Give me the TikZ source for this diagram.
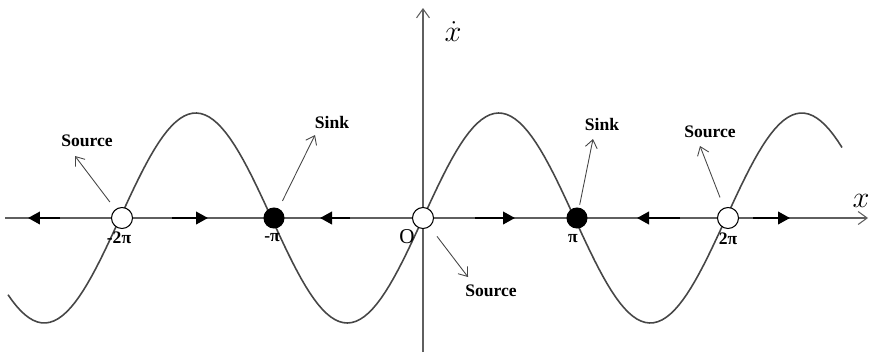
\documentclass[tikz,border=0pt]{standalone}
\usepackage{fontspec}
\setmainfont{Liberation Serif}
\usetikzlibrary{arrows.meta,positioning}
\definecolor{curvegray}{RGB}{70,70,70}
\definecolor{axisgray}{RGB}{95,95,95}
\tikzset{
  axisline/.style={draw=axisgray, line width=0.6pt, -{Straight Barb[length=1.8mm,width=2.6mm]}},
  curveline/.style={draw=curvegray, line width=0.9pt},
  srcpoint/.style={circle, draw=black, line width=0.6pt, fill=white, minimum size=4.2mm, inner sep=0pt},
  sinkpoint/.style={circle, draw=black, line width=0.6pt, fill=black, minimum size=4mm, inner sep=0pt},
  flow/.style={line width=1.3pt, -{Triangle[length=2.4mm,width=2.5mm]}},
  labelarrow/.style={draw=curvegray, line width=0.5pt, -{Straight Barb[length=1.6mm,width=2.4mm]}},
  labeltext/.style={font=\bfseries\fontsize{10}{12}\selectfont, inner sep=1pt},
  ticklabel/.style={font=\bfseries\fontsize{10}{12}\selectfont, inner sep=1pt}
}
\begin{document}
\begin{tikzpicture}[x=0.02cm, y=-0.02cm]
\useasboundingbox (0,0) rectangle (874,352);
% axes
\draw[axisline] (5,218) -- (868,218);
\draw[axisline] (423,352) -- (423,8);
\node (xlab) at (861,201) {\fontsize{16}{18}\selectfont$x$};
\node (xdotlab) at (453,32) {\fontsize{16}{18}\selectfont$\dot{x}$};
% sine curve
\draw[curveline] plot[domain=8:842, samples=200] (\x, {218-105*sin((\x-423)/151.5*180)});
% direction of flow
\draw[flow] (60,218) -- (28,218);
\draw[flow] (172,218) -- (208,218);
\draw[flow] (350,218) -- (320,218);
\draw[flow] (475,218) -- (515,218);
\draw[flow] (680,218) -- (637,218);
\draw[flow] (753,218) -- (790,218);
% fixed points
\node[srcpoint] (m2pi) at (122,218) {};
\node[sinkpoint] (mpi) at (274,218) {};
\node[srcpoint] (zero) at (423,218) {};
\node[sinkpoint] (ppi) at (577,218) {};
\node[srcpoint] (p2pi) at (728,218) {};
% tick labels
\node[ticklabel] (lm2pi) at (119,238) {-2π};
\node[ticklabel] (lmpi) at (272,238) {-π};
\node (lzero) at (407,237) {\fontsize{12}{14}\selectfont O};
\node[ticklabel] (lppi) at (573,239) {π};
\node[ticklabel] (lp2pi) at (728,239) {2π};
% labels
\node[labeltext] (srcA) at (87,141) {Source};
\node[labeltext] (sinkA) at (332,122) {Sink};
\node[labeltext] (srcB) at (491,291) {Source};
\node[labeltext] (sinkB) at (602,124) {Sink};
\node[labeltext] (srcC) at (710,132) {Source};
\coordinate (srcAtip) at (75,156);
\coordinate (sinkAtip) at (315,135);
\coordinate (srcBtip) at (468,277);
\coordinate (sinkBtip) at (593,139);
\coordinate (srcCtip) at (700,146);
\draw[labelarrow, shorten <=1.8mm] (m2pi) -- (srcAtip);
\draw[labelarrow, shorten <=1.7mm] (mpi) -- (sinkAtip);
\draw[labelarrow, shorten <=2.4mm] (zero) -- (srcBtip);
\draw[labelarrow, shorten <=0.6mm] (ppi) -- (sinkBtip);
\draw[labelarrow, shorten <=2.2mm] (p2pi) -- (srcCtip);
\end{tikzpicture}
\end{document}
